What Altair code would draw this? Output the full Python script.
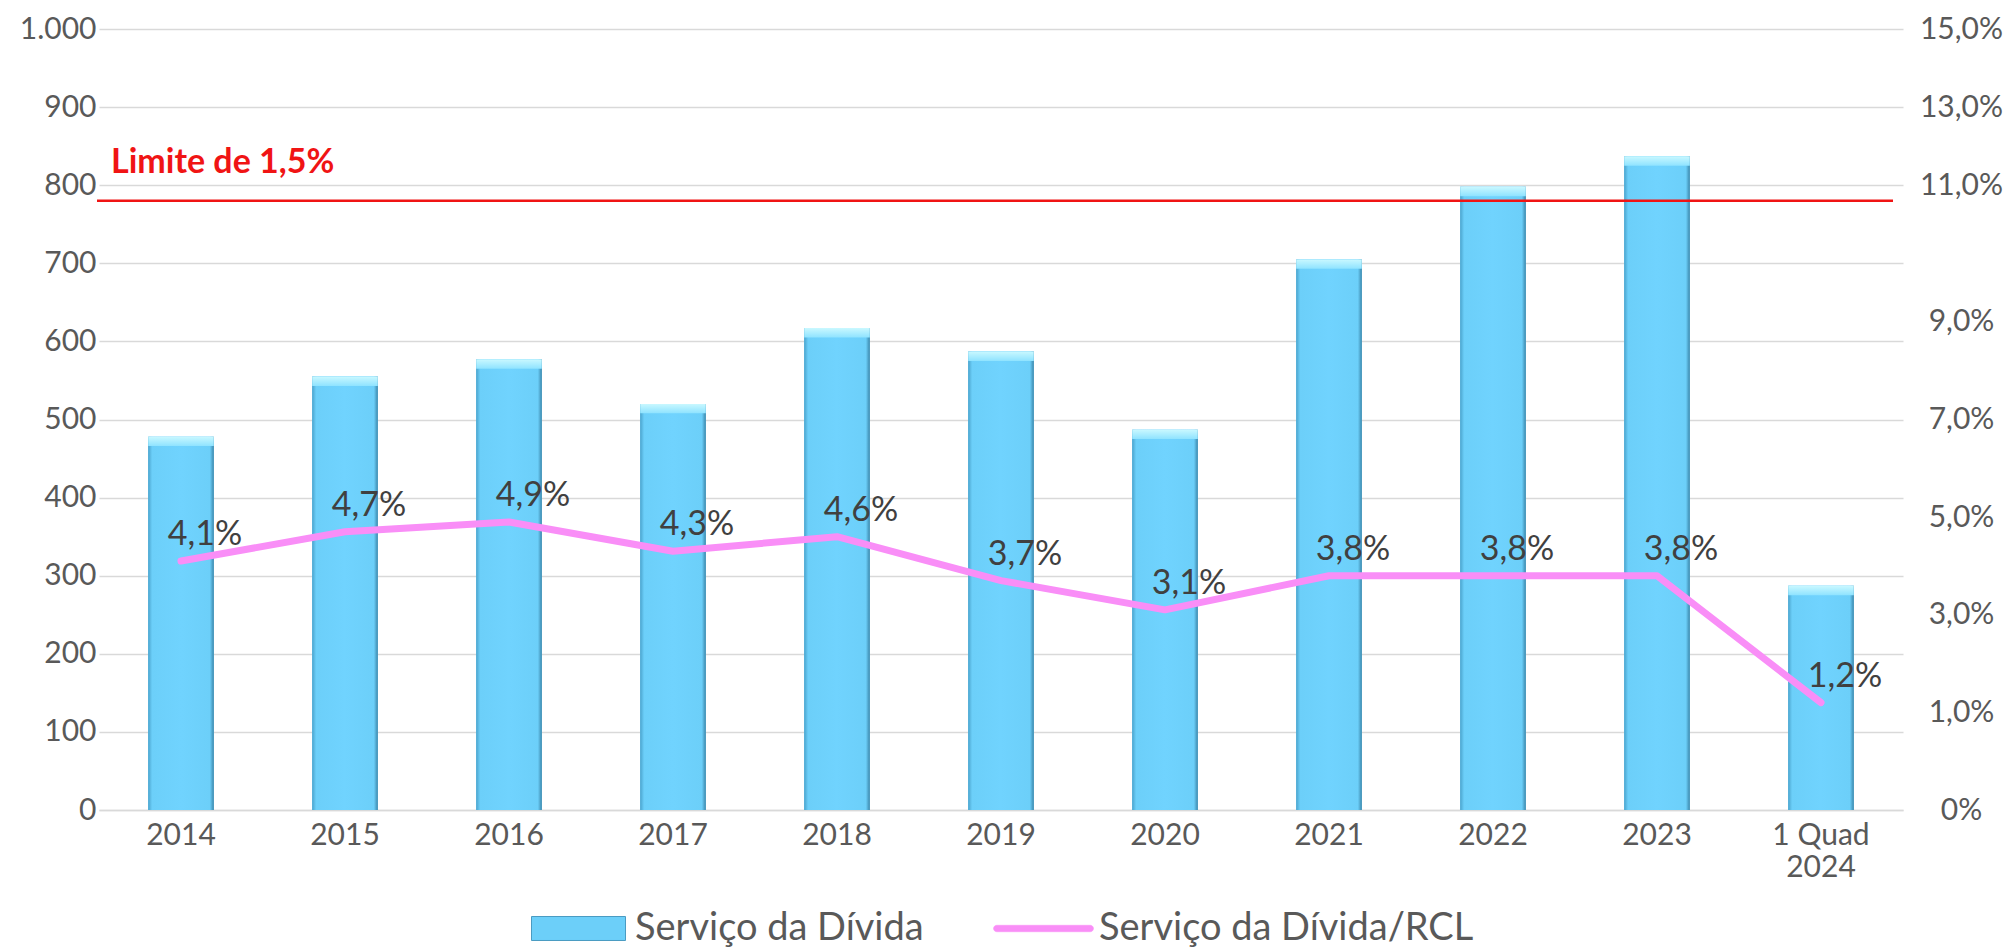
import altair as alt
import pandas as pd

# ---- data ----
categorias = ["2014", "2015", "2016", "2017", "2018", "2019", "2020",
              "2021", "2022", "2023", "1 Quad 2024"]
servico_divida = [478, 555, 577, 520, 617, 587, 487, 705, 798, 837, 287]
servico_rcl = [4.1, 4.7, 4.9, 4.3, 4.6, 3.7, 3.1, 3.8, 3.8, 3.8, 1.2]

serie_barras = "Serviço da Dívida"
serie_linha = "Serviço da Dívida/RCL"

limite_valor = 780
limite_texto = "Limite de 1,5%"

eixo_esq_valores = list(range(0, 1001, 100))
eixo_dir_valores = [-1, 1, 3, 5, 7, 9, 11.8, 13.4, 15]
eixo_dir_rotulos = ["0%", "1,0%", "3,0%", "5,0%", "7,0%", "9,0%", "11,0%", "13,0%", "15,0%"]

df = pd.DataFrame({
    "cat": categorias,
    "valor": servico_divida,
    "pct": servico_rcl,
    "s_bar": serie_barras,
    "s_lin": serie_linha,
})

FONT = "Lato"
GRAY = "#595959"
W, H = 1804, 781

# right axis label expression
expr = "'" + eixo_dir_rotulos[-1] + "'"
for v, l in reversed(list(zip(eixo_dir_valores[:-1], eixo_dir_rotulos[:-1]))):
    expr = f"datum.value <= {v + 0.05} ? '{l}' : ({expr})"

x_axis = alt.Axis(title=None, labelFont=FONT, labelFontSize=30, labelColor=GRAY,
                  ticks=False, domain=True, domainColor="#d9d9d9", domainWidth=1.5,
                  labelPadding=10, labelAngle=0, labelLineHeight=32, grid=False,
                  labelExpr=f"datum.label == '{categorias[-1]}' ? ['1 Quad', '2024'] : datum.label")
x_enc = alt.X("cat:N", sort=categorias, title=None,
              scale=alt.Scale(paddingInner=0.6, paddingOuter=0.3), axis=x_axis)

y_left = alt.Y("valor:Q", title=None,
               scale=alt.Scale(domain=[0, 1000], nice=False),
               axis=alt.Axis(title=None, values=eixo_esq_valores,
                             labelExpr="replace(format(datum.value, ','), ',', '.')",
                             labelFont=FONT, labelFontSize=30, labelColor=GRAY,
                             grid=True, gridColor="#d9d9d9", gridWidth=1.5,
                             domain=False, ticks=False, labelPadding=3))

bar_path = "M-1,-0.255H1V0.255H-1Z"
capsule_path = ("M-0.935,-0.065H0.935A0.065,0.065 0 0 1 0.935,0.065"
                "H-0.935A0.065,0.065 0 0 1 -0.935,-0.065Z")

base = alt.Chart(df)

# base bars carry the legend
bars_legend = base.mark_bar().encode(
    x=x_enc, y=y_left,
    fill=alt.Fill("s_bar:N", title=None,
                  scale=alt.Scale(domain=[serie_barras], range=["#6ccff9"]),
                  legend=alt.Legend(orient="none", legendX=432, legendY=852, title=None,
                                    symbolType=bar_path, symbolSize=8836,
                                    symbolStrokeColor="#4a9bc2", symbolStrokeWidth=1,
                                    labelFont=FONT, labelFontSize=38, labelColor=GRAY,
                                    labelOffset=9, labelLimit=0)),
)

body_grad = alt.Gradient(
    gradient="linear", x1=0, x2=1, y1=0, y2=0,
    stops=[alt.GradientStop(offset=0, color="#4aa3cc"),
           alt.GradientStop(offset=0.06, color="#6ccff9"),
           alt.GradientStop(offset=0.5, color="#70d3fe"),
           alt.GradientStop(offset=0.94, color="#6ccff9"),
           alt.GradientStop(offset=1, color="#3b86aa")])
bars_body = base.mark_bar(fill=body_grad).encode(x=x_enc, y=y_left)

cap_grad = alt.Gradient(
    gradient="linear", x1=0, x2=0, y1=0, y2=1,
    stops=[alt.GradientStop(offset=0, color="#c9f8ff"),
           alt.GradientStop(offset=1, color="#8fe3ff")])
bars_cap = base.transform_calculate(cap_low="datum.valor - 12").mark_bar(fill=cap_grad).encode(
    x=x_enc, y=y_left, y2="cap_low:Q")

rule = alt.Chart(pd.DataFrame({"v": [limite_valor]})).mark_rule(
    color="#f01414", strokeWidth=2.5).encode(
    y=alt.datum(limite_valor), x=alt.value(-2), x2=alt.value(W - 10))

rule_text = alt.Chart(pd.DataFrame({"t": [limite_texto]})).mark_text(
    align="left", baseline="alphabetic", dy=-28, font=FONT, fontSize=34,
    fontWeight="bold", color="#f01414").encode(
    x=alt.value(12), y=alt.datum(limite_valor), text="t:N")

left_layer = alt.layer(bars_legend, bars_body, bars_cap, rule, rule_text)

y_right = alt.Y("pct:Q", title=None,
                scale=alt.Scale(domain=[-1, 15], nice=False),
                axis=alt.Axis(orient="right", title=None, values=eixo_dir_valores,
                              labelExpr=expr, labelFont=FONT, labelFontSize=30,
                              labelColor=GRAY, grid=False, domain=False, ticks=False,
                              labelAlign="center", labelPadding=58))

line = base.mark_line(strokeWidth=7, strokeCap="round", strokeJoin="round").encode(
    x=x_enc, y=y_right,
    stroke=alt.Stroke("s_lin:N", title=None,
                      scale=alt.Scale(domain=[serie_linha], range=["#f98ef7"]),
                      legend=alt.Legend(orient="none", legendX=894, legendY=849, title=None,
                                        symbolType=capsule_path, symbolSize=10000,
                                        symbolFillColor="#f98ef7", symbolStrokeWidth=0.5,
                                        labelFont=FONT, labelFontSize=38, labelColor=GRAY,
                                        labelOffset=5, labelLimit=0)),
)

labels = base.transform_calculate(
    lab="replace(format(datum.pct, '.1f'), '.', ',') + '%'"
).mark_text(align="center", baseline="alphabetic", dx=24, dy=-16,
            font=FONT, fontSize=34, color="#404040").encode(
    x=x_enc, y=y_right, text="lab:N")

right_layer = alt.layer(line, labels)

chart = alt.layer(left_layer, right_layer).resolve_scale(
    y="independent"
).properties(
    width=W, height=H,
    autosize=alt.AutoSizeParams(type="none"),
    padding={"left": 99, "top": 29, "right": 105, "bottom": 139},
    background="white",
).configure_view(stroke=None)

chart.save("out.html", embed_options={"renderer": "svg", "actions": False})
